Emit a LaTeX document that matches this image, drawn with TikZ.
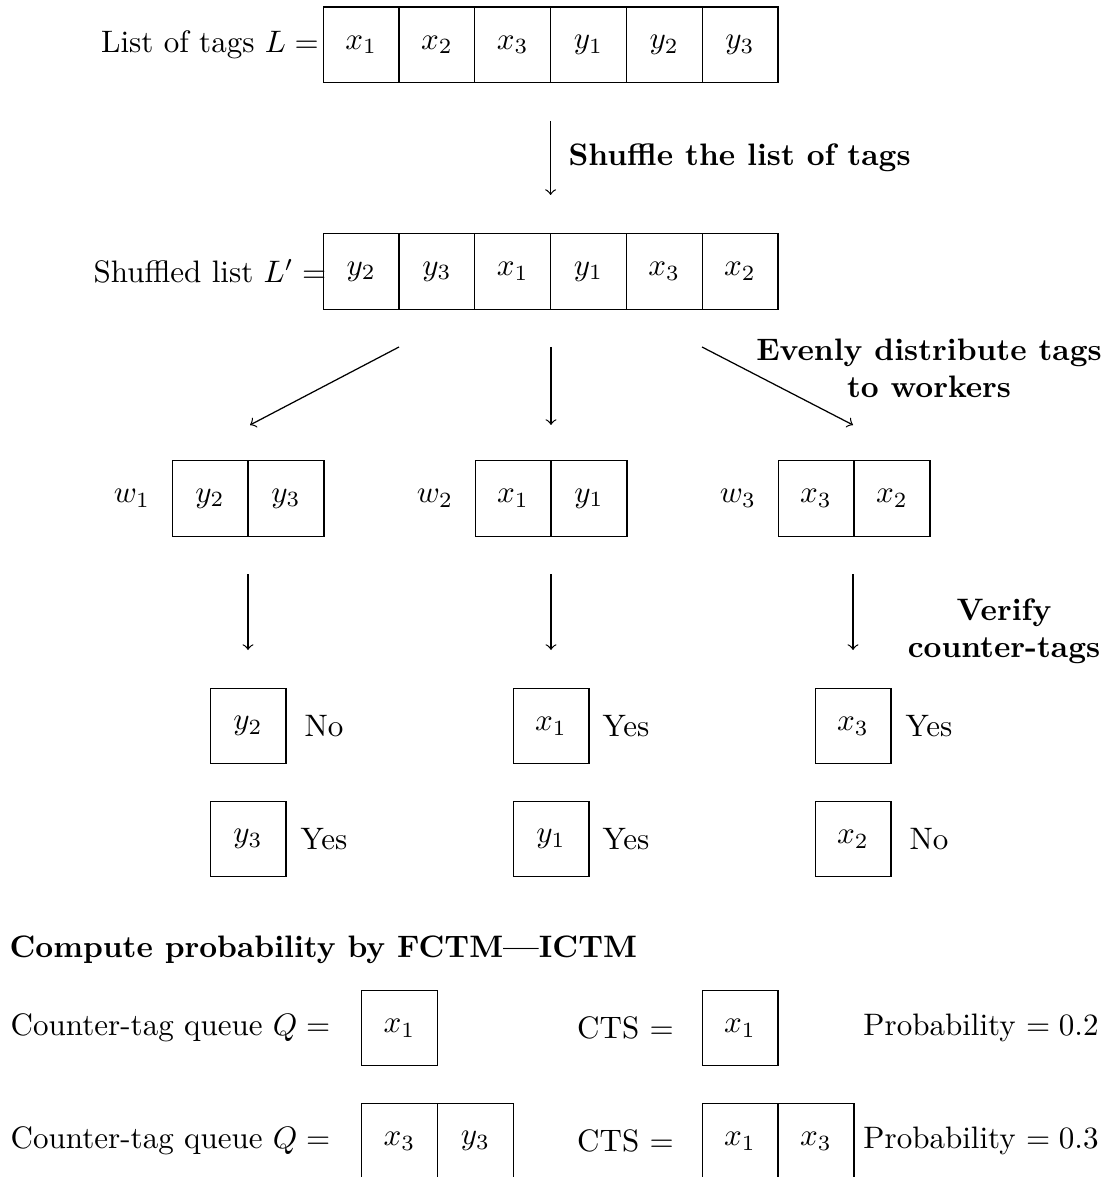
\documentclass[tikz,border=0pt]{standalone}
\begin{document}
\begin{tikzpicture}[x=0.3221pt,y=-0.3221pt,
  cell/.style={draw, line width=0.4pt, minimum width=24.4pt, minimum height=24.3pt, inner sep=0pt, anchor=center},
  lbl/.style={inner sep=0pt, anchor=center},
  head/.style={inner sep=0pt, font=\bfseries},
  arr/.style={->, line width=0.4pt}]
\useasboundingbox (0,0) rectangle (1105,1177);

% original list of tags
\node[lbl] (Llab) at (210,44.8) {List of tags $L =$};
\foreach \t [count=\i] in {x_1,x_2,x_3,y_1,y_2,y_3}
  \node[cell] (L\i) at ({323.3+75.77*(\i-0.5)},44.8) {$\t$};

% shuffling step
\coordinate (s1) at (550.6,121);
\coordinate (s2) at (550.6,195);
\draw[arr] (s1) -- (s2);
\node[head, anchor=west] (shuf) at (568,158) {Shuffle the list of tags};

% shuffled list
\node[lbl] (Mlab) at (210,271.5) {Shuffled list $L' =$};
\foreach \t [count=\i] in {y_2,y_3,x_1,y_1,x_3,x_2}
  \node[cell] (M\i) at ({323.3+75.77*(\i-0.5)},271.5) {$\t$};

% distribution to workers
\coordinate (d1a) at (399,347);  \coordinate (d1b) at (250,425);
\coordinate (d2a) at (551,347);  \coordinate (d2b) at (551,425);
\coordinate (d3a) at (702,347);  \coordinate (d3b) at (853,425);
\draw[arr] (d1a) -- (d1b);
\draw[arr] (d2a) -- (d2b);
\draw[arr] (d3a) -- (d3b);
\node[head, align=center] (dist) at (929,368) {Evenly distribute tags\\to workers};

% workers
\node[lbl] (w1) at (132,498.5) {$w_1$};
\node[cell] (W11) at (210,498.5) {$y_2$};
\node[cell] (W12) at (286,498.5) {$y_3$};
\node[lbl] (w2) at (435,498.5) {$w_2$};
\node[cell] (W21) at (513,498.5) {$x_1$};
\node[cell] (W22) at (589,498.5) {$y_1$};
\node[lbl] (w3) at (738,498.5) {$w_3$};
\node[cell] (W31) at (816,498.5) {$x_3$};
\node[cell] (W32) at (892,498.5) {$x_2$};

% verification step
\coordinate (v1a) at (248,574);  \coordinate (v1b) at (248,650);
\coordinate (v2a) at (551,574);  \coordinate (v2b) at (551,650);
\coordinate (v3a) at (853,574);  \coordinate (v3b) at (853,650);
\draw[arr] (v1a) -- (v1b);
\draw[arr] (v2a) -- (v2b);
\draw[arr] (v3a) -- (v3b);
\node[head, align=center] (verify) at (1004,631) {Verify\\counter-tags};

% verification results
\node[cell] (R11) at (248,726) {$y_2$};
\node[lbl]  (A11) at (324,726) {No};
\node[cell] (R12) at (248,839) {$y_3$};
\node[lbl]  (A12) at (324,839) {Yes};
\node[cell] (R21) at (551,726) {$x_1$};
\node[lbl]  (A21) at (626,726) {Yes};
\node[cell] (R22) at (551,839) {$y_1$};
\node[lbl]  (A22) at (626,839) {Yes};
\node[cell] (R31) at (853,726) {$x_3$};
\node[lbl]  (A31) at (929,726) {Yes};
\node[cell] (R32) at (853,839) {$x_2$};
\node[lbl]  (A32) at (929,839) {No};

% probability computation
\node[head, anchor=west] (comp) at (9,950) {Compute probability by FCTM---ICTM};

\node[lbl]  (Q1lab) at (170.5,1028) {Counter-tag queue $Q =$};
\node[cell] (Q11)   at (399.5,1028) {$x_1$};
\node[lbl]  (C1lab) at (625.5,1028) {CTS $=$};
\node[cell] (C11)   at (740,1028) {$x_1$};
\node[lbl]  (P1)    at (981,1028) {Probability $= 0.2$};

\node[lbl]  (Q2lab) at (170.5,1141) {Counter-tag queue $Q =$};
\node[cell] (Q21)   at (399.5,1141) {$x_3$};
\node[cell] (Q22)   at (475.5,1141) {$y_3$};
\node[lbl]  (C2lab) at (625.5,1141) {CTS $=$};
\node[cell] (C21)   at (740,1141) {$x_1$};
\node[cell] (C22)   at (816,1141) {$x_3$};
\node[lbl]  (P2)    at (981,1141) {Probability $= 0.3$};
\end{tikzpicture}
\end{document}
